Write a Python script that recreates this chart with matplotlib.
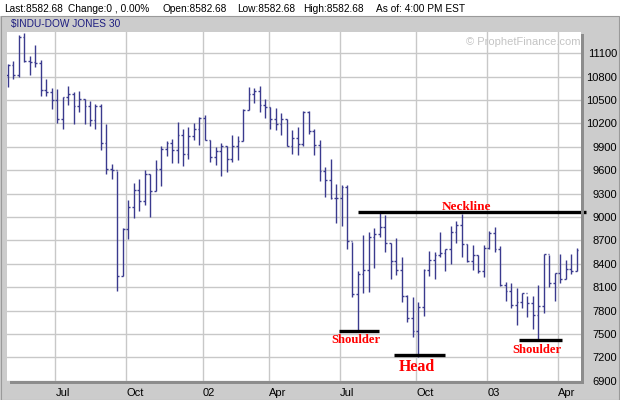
import matplotlib
matplotlib.use("Agg")
import matplotlib.pyplot as plt
from matplotlib.patches import Rectangle
import numpy as np

# ---------------- data (weekly OHLC, $INDU, May 2001 - May 2003) ----------------
opens = [10818, 10955, 10818, 11310, 11006, 10993, 10980, 10625, 10604, 10497,
         10253, 10536, 10574, 10420, 10510, 10420, 10240, 10420, 9945, 9612,
         9608, 8239, 8842, 9124, 9342, 9201, 9548, 9330, 9612, 9873,
         9954, 9856, 10048, 9813, 10035, 10134, 10266, 9984, 9774, 9843,
         9907, 9740, 9907, 9971, 10369, 10574, 10613, 10433, 10407, 10262,
         10189, 10253, 9907, 10010, 9941, 10352, 10099, 9920, 9586, 9471,
         9248, 9240, 9381, 8688, 8017, 8265, 8320, 8739, 8782, 8868,
         8667, 8436, 8320, 7987, 7705, 7533, 7846, 8325, 8449, 8517,
         8534, 8585, 8808, 8898, 8654, 8440, 8509, 8308, 8603, 8795,
         8585, 8132, 8047, 7867, 7910, 8021, 7893, 7739, 7858, 8521,
         8149, 8278, 8205, 8329, 8303]
highs = [10963, 11002, 11335, 11361, 11066, 11207, 11015, 10771, 10655, 10638,
         10544, 10681, 10604, 10617, 10510, 10493, 10450, 10450, 10193, 9680,
         9590, 8855, 9218, 9436, 9488, 9603, 9548, 9732, 9911, 9975,
         10001, 10219, 10129, 10155, 10202, 10279, 10305, 9984, 9898, 9945,
         9911, 10052, 10039, 10382, 10668, 10651, 10681, 10510, 10407, 10394,
         10330, 10253, 10116, 10155, 10360, 10360, 10125, 9984, 9637, 9744,
         9419, 9411, 9411, 8675, 8307, 8769, 8804, 8859, 9056, 9026,
         8667, 8731, 8483, 8000, 7970, 7914, 8329, 8564, 8547, 8812,
         8585, 8885, 8949, 9039, 8658, 8641, 8509, 8641, 8821, 8872,
         8628, 8162, 8149, 8085, 8030, 7987, 7987, 8128, 8521, 8513,
         8278, 8521, 8448, 8529, 8598]
lows = [10672, 10775, 10801, 10993, 10826, 10929, 10557, 10557, 10390, 10211,
        10125, 10442, 10198, 10352, 10198, 10172, 10134, 9864, 9556, 9492,
        8055, 8239, 8718, 8988, 9082, 9159, 9000, 9330, 9402, 9783,
        9697, 9697, 9655, 9744, 9984, 9924, 9984, 9710, 9672, 9531,
        9578, 9710, 9736, 9971, 10369, 10467, 10352, 10270, 10134, 10121,
        10057, 9907, 9813, 9800, 9916, 10061, 9800, 9466, 9261, 9227,
        8928, 8889, 8594, 7970, 7542, 8021, 8034, 8350, 8748, 8556,
        8209, 8260, 7914, 7658, 7457, 7200, 7734, 8243, 8201, 8491,
        8303, 8397, 8671, 8491, 8427, 8325, 8286, 8235, 8590, 8556,
        8111, 7923, 7828, 7619, 7833, 7713, 7559, 7431, 7773, 8098,
        7927, 8149, 8200, 8264, 8303]
closes = [10955, 10818, 11310, 11006, 10993, 10980, 10625, 10604, 10497, 10253,
          10536, 10574, 10420, 10510, 10420, 10240, 10420, 9945, 9612, 9608,
          8239, 8842, 9124, 9342, 9201, 9548, 9330, 9612, 9873, 9954,
          9856, 10048, 9813, 10035, 10134, 10266, 9984, 9774, 9843, 9907,
          9740, 9907, 9971, 10369, 10574, 10613, 10433, 10407, 10262, 10189,
          10253, 9907, 10010, 9941, 10352, 10099, 9920, 9586, 9471, 9248,
          9240, 9381, 8688, 8017, 8265, 8320, 8739, 8782, 8868, 8667,
          8436, 8320, 7987, 7705, 7533, 7846, 8325, 8449, 8517, 8534,
          8585, 8808, 8898, 8654, 8440, 8509, 8308, 8603, 8795, 8585,
          8132, 8047, 7867, 7910, 8021, 7893, 7739, 7858, 8521, 8149,
          8278, 8205, 8329, 8303, 8581]

month_labels = ["Jul", "Oct", "02", "Apr", "Jul", "Oct", "03", "Apr"]
month_bar_index = [9, 22, 36, 48, 61, 75, 88, 101]   # first weekly bar of each labelled month
y_ticks = list(range(6900, 11101, 300))

# head-and-shoulders annotation levels
neckline_level = 9060
left_shoulder_level = 7538
head_level = 7230
right_shoulder_level = 7422

header_parts = ["Last:8582.68", "Change:0 , 0.00%", "Open:8582.68",
                "Low:8582.68", "High:8582.68", "As of: 4:00 PM EST"]
title_text = "$INDU-DOW JONES 30"
watermark = "\u00a9 ProphetFinance.com"

# ---------------- layout ----------------
W, H = 620, 400
fig = plt.figure(figsize=(W / 100, H / 100), dpi=100, facecolor="#cccccc")

def fx(px):
    return px / W

def fy(py):
    return 1 - py / H

# white header strip
fig.patches.append(Rectangle((0, fy(16)), 1, 16 / H, transform=fig.transFigure,
                             facecolor="white", edgecolor="none", zorder=0))
# outer frame line
fig.patches.append(Rectangle((fx(0.5), fy(399.5)), fx(618), (383.5) / H, transform=fig.transFigure,
                             facecolor="none", edgecolor="#9a9a9a", lw=0.8, zorder=1))
# drop shadow of plot area
fig.patches.append(Rectangle((fx(581), fy(384)), fx(3), 350 / H, transform=fig.transFigure,
                             facecolor="#8c8c8c", edgecolor="none", zorder=1))
fig.patches.append(Rectangle((fx(10), fy(384)), fx(574), 3 / H, transform=fig.transFigure,
                             facecolor="#8c8c8c", edgecolor="none", zorder=1))

ax = fig.add_axes([fx(7), fy(381), fx(574), 349.5 / H])
ax.set_facecolor("white")
for s in ax.spines.values():
    s.set_visible(False)

n = len(closes)
x = np.arange(n)
px_per_bar = 5.468
ax.set_xlim(-1 / px_per_bar, (581 - 8) / px_per_bar)
ax.set_ylim(6896, 11380)

bar_color = "#3a3a8e"
tick = 0.33
ax.vlines(x, lows, highs, color=bar_color, lw=1.0, zorder=3)
ax.hlines(opens, x - tick, x, color=bar_color, lw=1.0, zorder=3)
ax.hlines(closes, x, x + tick, color=bar_color, lw=1.0, zorder=3)

# grid
ax.set_yticks(y_ticks)
ax.set_xticks([i - 0.35 for i in month_bar_index])
ax.set_xticklabels(month_labels)
ax.grid(True, color="#c8c8c8", lw=1.0, zorder=0)
ax.set_axisbelow(True)

ax.yaxis.tick_right()
ax.tick_params(axis="y", length=0, pad=25.9, labelsize=8, labelcolor="black")
for lab in ax.get_yticklabels():
    lab.set_horizontalalignment("right")
    lab.set_fontfamily("Liberation Sans")
ax.tick_params(axis="x", length=0, pad=5, labelsize=8, labelcolor="black")
for lab in ax.get_xticklabels():
    lab.set_horizontalalignment("left")
    lab.set_fontfamily("Liberation Sans")

# head & shoulders lines
lw_ann = 2.4
ax.plot([63.95, 105.65], [neckline_level] * 2, color="black", lw=lw_ann,
        solid_capstyle="butt", zorder=4, clip_on=False)
ax.plot([60.45, 67.9], [left_shoulder_level] * 2, color="black", lw=lw_ann,
        solid_capstyle="butt", zorder=4)
ax.plot([70.6, 79.97], [head_level] * 2, color="black", lw=lw_ann,
        solid_capstyle="butt", zorder=4)
ax.plot([93.45, 101.26], [right_shoulder_level] * 2, color="black", lw=lw_ann,
        solid_capstyle="butt", zorder=4)

red_font = dict(color="#ff0000", fontweight="bold", family="Liberation Serif",
                ha="center", va="baseline", zorder=5)
ax.text(83.9, 9090, "Neckline", fontsize=9.5, **red_font)
ax.text(63.7, 7380, "Shoulder", fontsize=9.1, **red_font)
ax.text(74.8, 7028, "Head", fontsize=11.4, **red_font)
ax.text(96.8, 7251, "Shoulder", fontsize=9.1, **red_font)

# watermark
fig.text(fx(580), fy(45), watermark, color="#c4c4c4", fontsize=8,
         family="Liberation Sans", ha="right", va="baseline")

# header texts
header_x = [4.3, 68.3, 162.3, 236.7, 303.3, 376.0]
for px, t in zip(header_x, header_parts):
    fig.text(fx(px), fy(11.7), t, fontsize=7.3, family="Liberation Sans",
             color="black", ha="left", va="baseline")
fig.text(fx(11), fy(26.7), title_text, fontsize=7.3, family="Liberation Sans",
         color="#1c1c80", ha="left", va="baseline")

fig.savefig("out.png", dpi=100, facecolor=fig.get_facecolor())
